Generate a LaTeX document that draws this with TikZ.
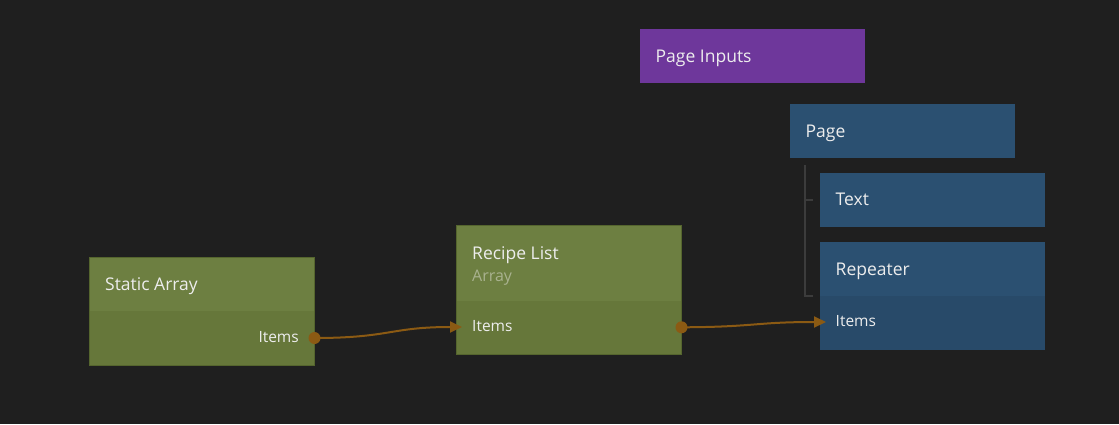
\documentclass[tikz,border=0pt]{standalone}
\usepackage{fontspec}
\setmainfont{Open Sans}
\usetikzlibrary{arrows.meta}
\definecolor{bg}{HTML}{1F1F1F}
\definecolor{ghead}{HTML}{6D7F41}
\definecolor{gbody}{HTML}{66773A}
\definecolor{gborder}{HTML}{55652E}
\definecolor{gsub}{HTML}{A9B28F}
\definecolor{bhead}{HTML}{2B5071}
\definecolor{bbody}{HTML}{284A69}
\definecolor{purp}{HTML}{6E379B}
\definecolor{conn}{HTML}{8B5A13}
\definecolor{txt}{HTML}{EDEDED}
\definecolor{tree}{HTML}{3C3C3C}
\tikzset{
  panel/.style={anchor=north west, inner sep=0pt, outer sep=0pt, draw=none, minimum width=225pt, minimum height=54pt},
  outline/.style={draw=gborder, line width=0.8pt},
  ttl/.style={anchor=base west, inner sep=0pt, text=txt, font=\fontsize{17.5}{20}\selectfont},
  sub/.style={anchor=base west, inner sep=0pt, text=gsub, font=\fontsize{16}{19}\selectfont},
  port/.style={anchor=base west, inner sep=0pt, text=txt, font=\fontsize{15.5}{18}\selectfont},
  dot/.style={circle, fill=conn, inner sep=0pt, minimum size=12pt},
  wire/.style={draw=conn, line width=2pt, -{Triangle[length=12pt,width=11pt]}},
  treeline/.style={draw=tree, line width=2pt}
}
\begin{document}
\begin{tikzpicture}[x=1pt,y=-1pt]
\fill[bg] (0,0) rectangle (1119,424);
\useasboundingbox (0,0) rectangle (1119,424);
% Static Array
\node[panel, fill=ghead] (sa) at (89.5,257) {};
\node[panel, fill=gbody, minimum height=54pt] (sab) at (89.5,311) {};
\draw[outline] (sa.north west) rectangle (sab.south east);
\node[ttl] (sat) at (105,290.7) {Static Array};
\node[port, anchor=base east] (sai) at (299,342.3) {Items};
\node[dot] (sao) at (314.5,338) {};
% Recipe List
\node[panel, fill=ghead, minimum height=75pt] (rl) at (456.5,225.5) {};
\node[panel, fill=gbody, minimum height=54pt] (rlb) at (456.5,300.5) {};
\draw[outline] (rl.north west) rectangle (rlb.south east);
\node[ttl] (rlt) at (472,259) {Recipe List};
\node[sub] (rls) at (472,281) {Array};
\node[port] (rli) at (472,331.7) {Items};
\coordinate (rlin) at (462,327);
\node[dot] (rlo) at (681.5,327.3) {};
% Page Inputs
\node[panel, fill=purp] (pi) at (640,29) {};
\node[ttl] (pit) at (655.5,62.3) {Page Inputs};
% Page
\node[panel, fill=bhead] (pg) at (790,104) {};
\node[ttl] (pgt) at (805.5,137.3) {Page};
% Text
\node[panel, fill=bhead] (tx) at (820,173) {};
\node[ttl] (txt) at (835.5,205.7) {Text};
% Repeater
\node[panel, fill=bhead] (rp) at (820,242) {};
\node[panel, fill=bbody] (rpb) at (820,296) {};
\node[ttl] (rpt) at (835.5,275) {Repeater};
\node[port] (rpi) at (835.5,326.7) {Items};
\coordinate (rpin) at (826,322);
% tree
\coordinate (tr0) at (805,165);
\coordinate (tr1) at (805,200);
\coordinate (tr2) at (805,296);
\draw[treeline] (tr0) -- (tr2) -- ++(8,0);
\draw[treeline] (tr1) -- ++(8,0);
% wires
\draw[wire] (sao.center) .. controls (390,338) and (390,327) .. (rlin);
\draw[wire] (rlo.center) .. controls (755,327) and (755,322) .. (rpin);
\end{tikzpicture}
\end{document}
